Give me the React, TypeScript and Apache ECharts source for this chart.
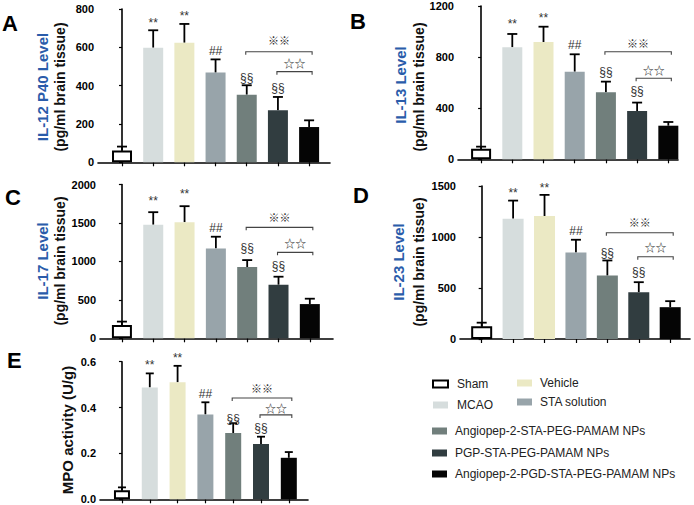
import React, { useEffect, useRef } from 'react';
import * as echarts from 'echarts';

// ---------- data ----------
const groups = [
  'Sham',
  'MCAO',
  'Vehicle',
  'STA solution',
  'Angiopep-2-STA-PEG-PAMAM NPs',
  'PGP-STA-PEG-PAMAM NPs',
  'Angiopep-2-PGD-STA-PEG-PAMAM NPs',
];
const groupColors = ['#ffffff', '#d6dddd', '#ebe9c4', '#98a4aa', '#717f7c', '#313d40', '#050505'];

const il12Mean = [61, 598, 624, 468, 353, 271, 184];
const il12Err = [82, 689, 722, 537, 402, 341, 219];
const il13Mean = [83, 877, 918, 686, 524, 378, 263];
const il13Err = [99, 981, 1038, 822, 608, 444, 292];
const il17Mean = [173, 1477, 1510, 1169, 926, 697, 445];
const il17Err = [217, 1640, 1718, 1321, 1017, 801, 515];
const il23Mean = [125, 1180, 1206, 849, 622, 459, 312];
const il23Err = [160, 1357, 1413, 973, 770, 557, 371];
const mpoMean = [0.04, 0.488, 0.51, 0.37, 0.289, 0.241, 0.181];
const mpoErr = [0.052, 0.549, 0.582, 0.423, 0.332, 0.273, 0.206];

// significance marks above each bar (text centre, data units)
const sigMarks = ['', '**', '**', '##', '§§', '§§', ''];
const il12MarkY = [null, 729, 764, 583, 438, 386, null];
const il13MarkY = [null, 1059, 1103, 895, 686, 537, null];
const il17MarkY = [null, 1785, 1872, 1438, 1170, 944, null];
const il23MarkY = [null, 1428, 1483, 1059, 840, 654, null];
const mpoMarkY = [null, 0.586, 0.615, 0.459, 0.349, 0.31, null];

// comparison brackets: [fromIndex, toIndex]
const bracketSpans = [[4, 6], [5, 6]];
const bracketLabels = ['※※', '☆☆'];
const il12BracketY = [577, 473];
const il12BracketTextY = [638, 517];
const il13BracketY = [842, 634];
const il13BracketTextY = [913, 699];
const il17BracketY = [1443, 1118];
const il17BracketTextY = [1581, 1243];
const il23BracketY = [1042, 807];
const il23BracketTextY = [1150, 905];
const mpoBracketY = [0.442, 0.368];
const mpoBracketTextY = [0.484, 0.4];

const panelLetters = ['A', 'B', 'C', 'D', 'E'];
const yTitleMain = ['IL-12 P40 Level', 'IL-13 Level', 'IL-17 Level', 'IL-23 Level', 'MPO activity (U/g)'];
const yTitleUnit = ['(pg/ml brain tissue)', '(pg/ml brain tissue)', '(pg/ml brain tissue)', '(pg/ml brain tissue)', ''];
const yMax = [800, 1200, 2000, 1500, 0.6];
const yInterval = [200, 400, 500, 500, 0.2];

// ---------- layout ----------
const FONT = '"Liberation Sans", Arial, Helvetica, sans-serif';
const layout = [
  { left: 98, top: 9, width: 232, height: 153.3, xmin: -0.77, xmax: 6.67, bw: 20, cap: 10,
    letter: [2, 23], t1: [42, 87], t2: [60, 87] },
  { left: 458, top: 6, width: 220, height: 153.3, xmin: -0.74, xmax: 6.31, bw: 20, cap: 10,
    letter: [350, 21], t1: [400, 85], t2: [419, 87] },
  { left: 100, top: 184.5, width: 233, height: 153.8, xmin: -0.7, xmax: 6.74, bw: 20, cap: 10,
    letter: [5, 197], t1: [42, 261], t2: [60, 261] },
  { left: 460, top: 186, width: 230, height: 153, xmin: -0.69, xmax: 6.63, bw: 21, cap: 10,
    letter: [353, 195], t1: [398, 262], t2: [419, 262] },
  { left: 100, top: 361.7, width: 208, height: 137.6, xmin: -0.79, xmax: 6.69, bw: 16, cap: 8,
    letter: [7, 360], t1: [67, 430], t2: [0, 0] },
];

const means = [il12Mean, il13Mean, il17Mean, il23Mean, mpoMean];
const errs = [il12Err, il13Err, il17Err, il23Err, mpoErr];
const markYs = [il12MarkY, il13MarkY, il17MarkY, il23MarkY, mpoMarkY];
const bracketYs = [il12BracketY, il13BracketY, il17BracketY, il23BracketY, mpoBracketY];
const bracketTextYs = [il12BracketTextY, il13BracketTextY, il17BracketTextY, il23BracketTextY, mpoBracketTextY];

const legendPos = [
  [433, 384, 457],
  [433, 405, 457],
  [517, 383, 540],
  [517, 402, 540],
  [432, 431, 455],
  [432, 453, 455],
  [432, 474, 455],
];

function buildOption() {
  const grid: any[] = [];
  const xAxis: any[] = [];
  const yAxis: any[] = [];
  const series: any[] = [];
  const graphic: any[] = [];

  layout.forEach((L, i) => {
    grid.push({ left: L.left, top: L.top, width: L.width, height: L.height, containLabel: false });
    xAxis.push({
      type: 'value',
      gridIndex: i,
      min: L.xmin,
      max: L.xmax,
      axisLine: { show: true, lineStyle: { color: '#000', width: 1.6 } },
      axisTick: { show: true, length: 4, customValues: [0, 1, 2, 3, 4, 5, 6], lineStyle: { color: '#000', width: 1.2 } },
      axisLabel: { show: false },
      splitLine: { show: false },
    });
    yAxis.push({
      type: 'value',
      gridIndex: i,
      min: 0,
      max: yMax[i],
      interval: yInterval[i],
      axisLine: { show: true, lineStyle: { color: '#000', width: 1.6 } },
      axisTick: { show: true, length: 3, lineStyle: { color: '#000', width: 1.2 } },
      axisLabel: {
        show: true,
        margin: 4,
        color: '#000',
        fontSize: 11,
        fontWeight: 'bold',
        fontFamily: FONT,
        formatter: (v: number) => (i === 4 ? v.toFixed(1) : String(v)),
      },
      splitLine: { show: false },
    });

    const mean = means[i];
    const err = errs[i];

    // error bars (behind bars)
    series.push({
      type: 'custom',
      xAxisIndex: i,
      yAxisIndex: i,
      z: 1,
      data: mean.map((m, k) => [k, m, err[k]]),
      renderItem: (params: any, api: any) => {
        const x = api.value(0);
        const p0 = api.coord([x, api.value(1)]);
        const p1 = api.coord([x, api.value(2)]);
        const hw = L.cap / 2;
        return {
          type: 'group',
          children: [
            { type: 'line', shape: { x1: p0[0], y1: p0[1], x2: p1[0], y2: p1[1] }, style: { stroke: '#000', lineWidth: 1.8 } },
            { type: 'line', shape: { x1: p1[0] - hw, y1: p1[1], x2: p1[0] + hw, y2: p1[1] }, style: { stroke: '#000', lineWidth: 1.8 } },
          ],
        };
      },
    });

    // bars
    series.push({
      type: 'bar',
      xAxisIndex: i,
      yAxisIndex: i,
      z: 2,
      barWidth: L.bw,
      data: mean.map((m, k) => ({
        value: [k, m],
        itemStyle:
          k === 0
            ? { color: '#fff', borderColor: '#000', borderWidth: 2 }
            : { color: groupColors[k] },
      })),
    });

    // significance marks
    const marks = markYs[i];
    const markData: number[][] = [];
    const markText: string[] = [];
    marks.forEach((y, k) => {
      if (y !== null && sigMarks[k]) {
        markData.push([k, y as number]);
        markText.push(sigMarks[k]);
      }
    });
    series.push({
      type: 'custom',
      xAxisIndex: i,
      yAxisIndex: i,
      z: 3,
      data: markData,
      renderItem: (params: any, api: any) => {
        const p = api.coord([api.value(0), api.value(1)]);
        const t = markText[params.dataIndex];
        return {
          type: 'text',
          x: p[0],
          y: p[1],
          style: {
            text: t,
            align: 'center',
            verticalAlign: 'middle',
            textAlign: 'center',
            textVerticalAlign: 'middle',
            fill: '#333',
            font: '12px ' + FONT,
          },
        };
      },
    });

    // brackets
    series.push({
      type: 'custom',
      xAxisIndex: i,
      yAxisIndex: i,
      z: 3,
      data: bracketSpans.map((s, b) => [s[0], s[1], bracketYs[i][b], bracketTextYs[i][b]]),
      renderItem: (params: any, api: any) => {
        const a = api.value(0);
        const c = api.value(1);
        const pa = api.coord([a, api.value(2)]);
        const pc = api.coord([c, api.value(2)]);
        const pt = api.coord([(a + c) / 2, api.value(3)]);
        const x1 = pa[0] - 1;
        const x2 = pc[0] + 3;
        const y = pa[1];
        const st = { stroke: '#444', lineWidth: 1.1 };
        return {
          type: 'group',
          children: [
            { type: 'polyline', shape: { points: [[x1, y + 3], [x1, y], [x2, y], [x2, y + 3]] }, style: { ...st, fill: null } },
            {
              type: 'text',
              x: pt[0] + 1,
              y: pt[1],
              style: {
                text: bracketLabels[params.dataIndex],
                align: 'center',
                verticalAlign: 'middle',
                textAlign: 'center',
                textVerticalAlign: 'middle',
                fill: '#2a2a2a',
                font: '11px "Noto Sans CJK SC", "DejaVu Sans", sans-serif',
              },
            },
          ],
        };
      },
    });

    // panel letter
    graphic.push({
      type: 'text',
      x: L.letter[0],
      y: L.letter[1],
      style: {
        text: panelLetters[i],
        font: 'bold 22px ' + FONT,
        fill: '#000',
        align: 'left',
        verticalAlign: 'middle',
        textAlign: 'left',
        textVerticalAlign: 'middle',
      },
    });

    // y titles
    graphic.push({
      type: 'text',
      x: L.t1[0],
      y: L.t1[1],
      rotation: Math.PI / 2,
      style: {
        text: yTitleMain[i],
        font: 'bold 15px ' + FONT,
        fill: i === 4 ? '#111' : '#2a5caa',
        align: 'center',
        verticalAlign: 'middle',
        textAlign: 'center',
        textVerticalAlign: 'middle',
      },
    });
    if (yTitleUnit[i]) {
      graphic.push({
        type: 'text',
        x: L.t2[0],
        y: L.t2[1],
        rotation: Math.PI / 2,
        style: {
          text: yTitleUnit[i],
          font: 'bold 14px ' + FONT,
          fill: '#111',
          align: 'center',
          verticalAlign: 'middle',
          textAlign: 'center',
          textVerticalAlign: 'middle',
        },
      });
    }
  });

  // legend
  groups.forEach((g, k) => {
    const [sx, sy, tx] = legendPos[k];
    graphic.push({
      type: 'rect',
      shape: { x: sx, y: sy - 3.5, width: 15, height: 7 },
      style:
        k === 0
          ? { fill: '#fff', stroke: '#000', lineWidth: 2 }
          : { fill: groupColors[k], stroke: null },
    });
    graphic.push({
      type: 'text',
      x: tx,
      y: sy,
      style: {
        text: g,
        font: '12px ' + FONT,
        fill: '#222',
        align: 'left',
        verticalAlign: 'middle',
        textAlign: 'left',
        textVerticalAlign: 'middle',
      },
    });
  });

  return {
    animation: false,
    backgroundColor: '#ffffff',
    grid,
    xAxis,
    yAxis,
    series,
    graphic: { elements: graphic },
  };
}

export default function App() {
  const ref = useRef<HTMLDivElement>(null);
  useEffect(() => {
    if (!ref.current) return;
    const chart = echarts.init(ref.current, undefined, { renderer: 'svg' });
    chart.setOption(buildOption() as any);
    return () => {
      chart.dispose();
    };
  }, []);
  return (
    <div
      ref={ref}
      style={{ position: 'absolute', left: 0, top: 0, width: 694, height: 505, background: '#fff' }}
    />
  );
}
